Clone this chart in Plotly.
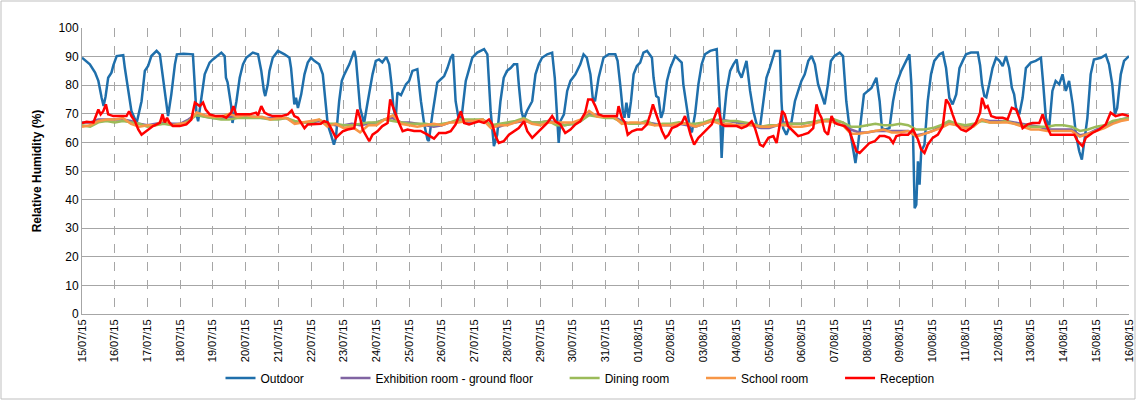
import pandas as pd
import plotly.graph_objects as go

START = "2015-07-15"

# ---- data (time in days since 15/07/15 00:00, relative humidity in %) ----
outdoor_day = [0.00, 0.12, 0.24, 0.40, 0.50, 0.60, 0.66, 0.72, 0.80, 0.90, 0.96, 1.06, 1.26, 1.31, 1.41, 1.51,
               1.67, 1.82, 1.92, 2.02, 2.12, 2.28, 2.38, 2.48, 2.56, 2.63, 2.73, 2.84, 2.90, 3.10, 3.39, 3.45,
               3.50, 3.55, 3.60, 3.65, 3.75, 3.90, 4.00, 4.26, 4.36, 4.40, 4.45, 4.56, 4.60, 4.72, 4.82, 4.92,
               5.02, 5.22, 5.38, 5.48, 5.56, 5.60, 5.68, 5.73, 5.83, 5.99, 6.19, 6.34, 6.39, 6.44, 6.49, 6.54,
               6.60, 6.70, 6.80, 6.90, 7.00, 7.10, 7.25, 7.36, 7.43, 7.51, 7.61, 7.70, 7.76, 7.86, 7.94, 8.02,
               8.17, 8.32, 8.37, 8.44, 8.50, 8.58, 8.62, 8.70, 8.78, 8.88, 8.98, 9.08, 9.18, 9.30, 9.39, 9.46,
               9.52, 9.59, 9.64, 9.75, 9.90, 10.00, 10.10, 10.25, 10.36, 10.46, 10.56, 10.60, 10.71, 10.81, 10.86, 10.96,
               11.07, 11.17, 11.27, 11.34, 11.42, 11.50, 11.60, 11.73, 11.83, 11.93, 12.08, 12.29, 12.39, 12.44, 12.49, 12.59,
               12.69, 12.79, 12.89, 12.99, 13.10, 13.20, 13.30, 13.35, 13.43, 13.50, 13.60, 13.76, 13.86, 13.96, 14.06, 14.22,
               14.37, 14.45, 14.52, 14.57, 14.62, 14.73, 14.83, 14.93, 15.08, 15.23, 15.33, 15.43, 15.54, 15.61, 15.68, 15.79,
               15.94, 16.10, 16.30, 16.37, 16.45, 16.53, 16.58, 16.64, 16.71, 16.78, 16.86, 16.96, 17.06, 17.16, 17.27, 17.42,
               17.47, 17.55, 17.62, 17.70, 17.77, 17.88, 17.98, 18.13, 18.23, 18.33, 18.38, 18.48, 18.58, 18.64, 18.74, 18.84,
               18.94, 19.04, 19.20, 19.40, 19.45, 19.50, 19.55, 19.60, 19.70, 19.81, 19.91, 20.01, 20.06, 20.16, 20.31, 20.42,
               20.52, 20.62, 20.72, 20.82, 20.92, 21.02, 21.18, 21.33, 21.38, 21.43, 21.53, 21.69, 21.79, 21.89, 21.99, 22.09,
               22.20, 22.30, 22.40, 22.50, 22.60, 22.70, 22.80, 22.89, 23.00, 23.16, 23.26, 23.31, 23.36, 23.46, 23.56, 23.64,
               23.72, 23.82, 23.90, 24.02, 24.13, 24.28, 24.38, 24.45, 24.55, 24.68, 24.79, 24.89, 25.04, 25.19, 25.29, 25.35,
               25.40, 25.45, 25.50, 25.55, 25.60, 25.65, 25.75, 25.85, 25.95, 26.05, 26.21, 26.31, 26.41, 26.51, 26.61, 26.72,
               26.82, 26.92, 27.02, 27.17, 27.38, 27.45, 27.51, 27.58, 27.64, 27.73, 27.83, 27.94, 28.04, 28.14, 28.24, 28.34,
               28.42, 28.49, 28.55, 28.65, 28.75, 28.85, 29.00, 29.15, 29.31, 29.38, 29.46, 29.56, 29.66, 29.76, 29.87, 29.97,
               30.07, 30.17, 30.28, 30.38, 30.48, 30.56, 30.63, 30.73, 30.83, 30.93, 31.14, 31.29, 31.39, 31.49, 31.57, 31.64,
               31.75, 31.85, 32.00]
outdoor_rh = [89.6, 88.5, 87.3, 84.4, 81.5, 75.6, 72.7, 76.0, 82.6, 84.4, 87.0, 90.2, 90.5, 86.0, 78.0, 71.0,
              66.8, 74.4, 85.0, 86.7, 90.2, 92.0, 90.8, 82.6, 74.4, 69.2, 76.8, 87.3, 90.8, 91.0, 90.8, 80.3,
              69.8, 67.4, 71.0, 75.6, 83.8, 87.9, 89.0, 91.4, 90.2, 82.6, 81.0, 72.7, 66.8, 74.4, 82.6, 87.3,
              89.6, 91.4, 90.8, 85.0, 78.0, 76.2, 80.3, 85.0, 89.6, 92.0, 90.8, 89.6, 86.0, 80.3, 73.3, 75.6,
              72.0, 76.8, 83.8, 87.9, 89.6, 88.5, 87.3, 83.8, 74.4, 66.3, 62.7, 59.2, 61.6, 74.4, 81.5, 83.8,
              87.3, 92.0, 89.6, 80.3, 72.0, 68.6, 66.5, 72.0, 78.0, 83.8, 88.5, 89.0, 88.0, 89.9, 87.3, 80.3,
              72.0, 68.5, 77.4, 76.5, 80.3, 81.5, 85.0, 85.6, 74.4, 66.3, 61.0, 60.5, 69.8, 78.0, 80.9, 82.0,
              83.2, 86.0, 89.6, 90.8, 74.4, 69.0, 68.6, 81.5, 86.0, 89.6, 91.4, 92.6, 90.8, 81.5, 71.0, 58.7,
              62.7, 74.4, 82.6, 85.0, 86.0, 87.3, 87.3, 80.3, 71.0, 68.0, 71.0, 74.4, 83.8, 87.3, 89.6, 90.8,
              91.4, 82.6, 68.6, 59.8, 67.4, 69.8, 78.0, 81.5, 83.8, 87.3, 90.8, 89.6, 83.8, 75.6, 74.4, 82.6,
              89.6, 90.8, 90.8, 88.5, 80.3, 71.0, 68.6, 73.9, 68.6, 74.4, 83.8, 86.7, 87.9, 91.4, 92.0, 89.6,
              82.6, 76.2, 75.6, 68.6, 71.0, 81.5, 86.0, 90.2, 89.0, 87.9, 80.3, 72.0, 65.0, 63.5, 70.0, 80.3,
              87.3, 90.8, 92.0, 92.6, 83.8, 71.0, 54.6, 66.3, 78.0, 85.0, 87.3, 89.0, 85.0, 82.6, 88.5, 78.0,
              71.0, 66.3, 65.0, 74.4, 82.6, 86.0, 92.0, 92.0, 74.4, 65.0, 62.7, 67.4, 74.4, 78.0, 81.5, 83.8,
              88.5, 90.2, 87.3, 80.3, 76.8, 73.3, 80.3, 88.5, 90.2, 91.4, 90.2, 82.6, 74.4, 65.0, 58.0, 52.8,
              59.2, 69.8, 76.8, 78.0, 79.0, 82.6, 74.4, 65.0, 64.5, 65.0, 74.4, 80.3, 85.0, 88.5, 90.8, 80.3,
              62.7, 37.0, 38.2, 53.4, 45.2, 56.9, 59.2, 74.4, 83.8, 88.5, 90.8, 91.4, 86.0, 75.6, 73.3, 76.8,
              86.0, 88.5, 90.8, 91.4, 91.4, 87.0, 80.3, 76.2, 75.8, 80.3, 86.0, 89.6, 88.5, 86.7, 90.2, 86.0,
              79.1, 76.8, 72.0, 69.8, 75.6, 86.0, 87.9, 88.5, 89.6, 80.3, 68.6, 65.0, 78.0, 81.5, 80.3, 83.8,
              78.0, 81.5, 73.3, 62.7, 56.9, 54.0, 60.4, 68.6, 83.8, 89.0, 89.6, 90.6, 87.3, 80.3, 69.8, 72.0,
              83.8, 88.5, 90.2]

reception_day = [0.00, 0.14, 0.35, 0.43, 0.50, 0.57, 0.65, 0.73, 0.80, 0.96, 1.16, 1.36, 1.44, 1.51, 1.62, 1.72,
                 1.82, 1.97, 2.17, 2.38, 2.46, 2.53, 2.60, 2.68, 2.78, 2.99, 3.19, 3.34, 3.45, 3.60, 3.70, 3.78,
                 3.90, 4.10, 4.30, 4.41, 4.56, 4.63, 4.71, 4.92, 5.12, 5.32, 5.38, 5.48, 5.58, 5.68, 5.83, 6.09,
                 6.29, 6.41, 6.49, 6.60, 6.70, 6.80, 6.90, 7.10, 7.30, 7.40, 7.51, 7.61, 7.76, 7.86, 7.97, 8.12,
                 8.32, 8.42, 8.50, 8.58, 8.68, 8.78, 8.88, 9.03, 9.18, 9.34, 9.42, 9.49, 9.59, 9.69, 9.80, 9.95,
                 10.15, 10.35, 10.56, 10.76, 10.91, 11.12, 11.27, 11.42, 11.58, 11.68, 11.83, 11.98, 12.13, 12.29, 12.44, 12.54,
                 12.64, 12.74, 12.89, 13.05, 13.20, 13.35, 13.51, 13.61, 13.76, 13.91, 14.07, 14.22, 14.37, 14.47, 14.62, 14.77,
                 14.93, 15.08, 15.23, 15.38, 15.47, 15.59, 15.69, 15.79, 15.94, 16.15, 16.35, 16.40, 16.50, 16.60, 16.68, 16.81,
                 16.96, 17.11, 17.27, 17.37, 17.45, 17.52, 17.62, 17.73, 17.83, 17.93, 18.03, 18.18, 18.33, 18.43, 18.53, 18.60,
                 18.71, 18.84, 18.94, 19.10, 19.25, 19.40, 19.45, 19.55, 19.65, 19.81, 20.01, 20.16, 20.31, 20.47, 20.57, 20.72,
                 20.82, 20.98, 21.13, 21.23, 21.33, 21.40, 21.48, 21.58, 21.74, 21.89, 22.04, 22.20, 22.35, 22.45, 22.52, 22.60,
                 22.70, 22.80, 22.91, 23.01, 23.11, 23.31, 23.46, 23.56, 23.67, 23.77, 23.92, 24.07, 24.23, 24.38, 24.53, 24.68,
                 24.79, 24.89, 25.04, 25.25, 25.40, 25.47, 25.55, 25.65, 25.75, 25.85, 26.00, 26.16, 26.31, 26.41, 26.51, 26.61,
                 26.72, 26.87, 27.02, 27.17, 27.32, 27.45, 27.51, 27.61, 27.68, 27.79, 27.94, 28.14, 28.29, 28.42, 28.55, 28.65,
                 28.75, 28.90, 29.05, 29.26, 29.36, 29.46, 29.61, 29.87, 30.12, 30.33, 30.43, 30.58, 30.68, 30.88, 31.09, 31.29,
                 31.44, 31.59, 31.80, 32.00]
reception_rh = [66.8, 67.2, 67.0, 69.2, 71.5, 69.8, 70.9, 73.3, 69.8, 69.2, 69.2, 69.2, 70.9, 69.2, 67.4, 64.5,
                62.7, 63.9, 65.7, 66.8, 69.8, 67.0, 68.6, 66.8, 65.7, 65.7, 66.3, 68.0, 73.9, 72.7, 73.9, 71.5,
                69.8, 69.2, 69.2, 68.6, 70.4, 72.7, 69.8, 69.8, 69.8, 70.4, 69.5, 72.7, 70.4, 69.8, 69.2, 69.2,
                69.8, 71.2, 69.2, 68.6, 66.8, 65.0, 66.3, 66.3, 66.5, 67.4, 67.0, 65.0, 61.6, 62.7, 63.9, 64.5,
                65.0, 71.5, 68.6, 64.5, 62.2, 60.4, 62.7, 63.9, 65.7, 66.8, 75.0, 72.7, 69.8, 66.8, 63.9, 64.5,
                64.0, 64.0, 62.7, 61.3, 63.3, 63.3, 63.9, 66.3, 70.9, 66.8, 66.3, 66.8, 67.4, 66.8, 68.0, 66.3,
                62.2, 59.8, 60.4, 62.7, 63.9, 65.0, 67.4, 63.9, 61.6, 63.3, 65.0, 66.8, 69.2, 67.4, 66.3, 63.3,
                64.5, 66.3, 67.4, 70.4, 75.0, 75.0, 72.7, 69.8, 69.2, 69.2, 69.2, 72.7, 68.6, 66.8, 62.7, 63.9,
                64.5, 64.5, 66.3, 69.8, 73.3, 70.9, 67.4, 63.9, 61.6, 62.7, 65.0, 65.7, 66.8, 69.2, 65.7, 62.7,
                59.2, 61.6, 62.7, 64.5, 66.3, 70.9, 72.1, 66.3, 65.7, 65.7, 65.7, 65.0, 65.7, 67.4, 65.0, 59.2,
                58.6, 61.6, 62.2, 59.8, 66.3, 71.0, 69.8, 65.7, 63.9, 62.2, 62.7, 63.3, 65.0, 73.3, 70.4, 68.6,
                63.9, 62.7, 69.2, 66.8, 66.3, 65.7, 63.9, 60.4, 56.9, 56.3, 58.0, 59.8, 60.4, 62.2, 62.2, 61.6,
                59.8, 62.2, 62.7, 62.7, 64.5, 62.7, 61.0, 57.5, 56.3, 59.2, 61.6, 62.7, 65.7, 75.0, 73.3, 69.8,
                66.3, 64.5, 63.9, 65.0, 66.8, 70.4, 75.6, 72.1, 72.7, 69.2, 68.6, 68.6, 68.0, 72.1, 71.5, 68.6,
                65.0, 66.3, 66.8, 66.8, 69.8, 66.3, 62.7, 62.7, 62.7, 62.7, 60.4, 58.7, 61.6, 63.3, 64.5, 66.3,
                70.4, 69.2, 69.8, 69.2]

# Indoor rooms, read every 6 hours (00, 06, 12, 18 h) from 15/07 to 16/08 00:00
exhibition_rh = [67, 67, 68, 68, 68, 68, 67.5, 66.5, 66, 66.5, 67, 66.5, 66.5, 68, 70, 69,
                 68.5, 68.5, 69, 69, 69, 69, 68.5, 68.5, 68.5, 68.5, 67, 67, 67, 67.5, 66.5, 66,
                 66, 66.5, 66, 66.5, 67, 68, 68.5, 67, 67, 66.5, 66, 65.5, 66, 67, 67.5, 67,
                 67.5, 68, 66, 65.5, 66.5, 67, 67.5, 67, 67, 67.5, 67, 66, 66.5, 67.5, 70, 69.5,
                 69, 69, 67.5, 66.5, 66.5, 67, 66.5, 66, 66, 66.5, 66, 65.5, 66.5, 67.5, 68, 67.5,
                 67, 66.5, 66, 65, 65, 66, 67, 66.5, 66.5, 67, 67.5, 67.5, 67.5, 67, 64.5, 63.5,
                 63.5, 64, 64, 64, 64, 64, 62.5, 63, 64, 65.5, 67, 66, 65.5, 66, 68, 67.5,
                 67.5, 67.5, 67, 66.5, 66, 65.5, 64.5, 64.5, 64.5, 64.5, 62.5, 63, 64.5, 65.5, 67, 68,
                 68.5]
dining_rh = [66, 65.5, 67, 67.5, 67, 67.5, 67, 66.5, 65.5, 66, 66.5, 66, 66, 67.5, 69.5, 69,
             68.5, 68, 68, 68.5, 68.5, 68.5, 68.5, 68, 68, 68.5, 67.5, 67, 67, 68, 66.5, 66.5,
             66, 66, 66.5, 67, 67, 68, 67.5, 67, 66.5, 66.5, 66.5, 66, 66.5, 67, 68, 68,
             68, 68, 66, 66.5, 67, 67.5, 68.5, 67, 67, 67.5, 66, 66, 66.5, 67.5, 69.5, 69,
             68.5, 68.5, 67, 66.5, 66.5, 67.5, 66, 66.5, 66.5, 67, 66.5, 66.5, 67, 68, 67.5, 67.5,
             67.5, 67, 66.5, 65.5, 66, 66, 66.5, 66.5, 66.5, 67, 67.5, 68, 68, 67, 65.5, 65.5,
             66, 66.5, 66, 66, 66.5, 66, 64.5, 64.5, 65, 66, 67.5, 66.5, 66, 66.5, 67.5, 67,
             67, 67.5, 66.5, 66, 65.5, 65.5, 65.5, 66, 66, 65.5, 64, 64.5, 65.5, 66, 67.5, 68,
             68.5]
school_rh = [65.5, 66, 67.5, 68, 68, 68.5, 66.5, 65.5, 66, 66, 68, 66, 66.5, 67, 70.5, 69.5,
             69, 69, 70, 69, 69.5, 69, 69, 68, 68.5, 68.5, 66.5, 67, 67.5, 68, 65.5, 66.5,
             65, 65.5, 63.5, 66, 66, 68, 69.5, 66.5, 66, 65.5, 66, 66.5, 66, 67, 67, 67.5,
             67.5, 68, 65, 66, 66, 67, 68, 66.5, 66, 67, 67, 67, 67, 68, 71, 69,
             69, 69, 66.5, 67, 67, 66.5, 66, 66, 66, 66.5, 66.5, 65.5, 66.5, 67.5, 66.5, 66.5,
             66, 66, 66, 65.5, 65.5, 66, 66, 65.5, 65.5, 66, 67, 67.5, 67, 66, 63, 63,
             63.5, 64, 64.5, 63.5, 63.5, 64, 62, 63, 64, 65, 66.5, 66, 65, 65.5, 68, 67,
             67, 67, 66.5, 65.5, 64.5, 64.5, 64, 64, 64, 64, 62, 63, 64, 65, 66.5, 67.5,
             68]
indoor_step_hours = 6

tick_dates = pd.date_range("2015-07-15", "2015-08-16", freq="D")
tick_labels = [d.strftime("%d/%m/%y") for d in tick_dates]

series_names = ["Outdoor", "Exhibition room - ground floor", "Dining room", "School room", "Reception"]
series_colors = ["#1F6FAB", "#8064A2", "#9BBB59", "#F79646", "#FF0000"]

# ---- build ----
t0 = pd.Timestamp(START)
to_time = lambda days: [t0 + pd.Timedelta(days=float(d)) for d in days]
indoor_time = [t0 + pd.Timedelta(hours=indoor_step_hours * i) for i in range(len(exhibition_rh))]

PAD = "\u00a0" * 8   # extra spacing after legend entries (Excel-like legend gaps)
legend_labels = [n + PAD for n in series_names[:-1]] + [series_names[-1]]

fig = go.Figure()
fig.add_trace(go.Scatter(x=to_time(outdoor_day), y=outdoor_rh, mode="lines", name=legend_labels[0],
                         line=dict(color=series_colors[0], width=2.5)))
fig.add_trace(go.Scatter(x=indoor_time, y=exhibition_rh, mode="lines", name=legend_labels[1],
                         line=dict(color=series_colors[1], width=2.5)))
fig.add_trace(go.Scatter(x=indoor_time, y=dining_rh, mode="lines", name=legend_labels[2],
                         line=dict(color=series_colors[2], width=2.5)))
fig.add_trace(go.Scatter(x=indoor_time, y=school_rh, mode="lines", name=legend_labels[3],
                         line=dict(color=series_colors[3], width=2.5)))
fig.add_trace(go.Scatter(x=to_time(reception_day), y=reception_rh, mode="lines", name=legend_labels[4],
                         line=dict(color=series_colors[4], width=2.5)))

L, R, T, B = 82, 8, 28, 96
W, H = 1137, 410
pw, ph = W - L - R, H - T - B

x_end = tick_dates[-1] + pd.Timedelta(minutes=2)   # keep the last date label inside the range

fig.update_layout(
    width=W, height=H,
    margin=dict(l=L, r=R, t=T, b=B, autoexpand=False),
    paper_bgcolor="white", plot_bgcolor="white",
    font=dict(family="Liberation Sans, Arial, sans-serif", size=12, color="#000000"),
    showlegend=True,
    legend=dict(orientation="h", x=(580 - L) / pw, xanchor="center", y=(T + ph - 378) / ph, yanchor="middle",
                font=dict(size=12), itemwidth=30, tracegroupgap=0, bgcolor="rgba(0,0,0,0)"),
    xaxis=dict(type="date", range=[tick_dates[0], x_end], tickmode="array", automargin=False,
               tickvals=list(tick_dates), ticktext=tick_labels, tickangle=-90, ticklabeloverflow="allow",
               tickfont=dict(size=11), showgrid=True, gridcolor="#A6A6A6", griddash="dash", gridwidth=1,
               showline=True, linecolor="#A6A6A6", linewidth=1, ticks="", zeroline=False),
    yaxis=dict(range=[0, 100], dtick=10, tickfont=dict(size=12), showgrid=True, gridcolor="#A6A6A6",
               automargin=False, gridwidth=1, showline=True, linecolor="#A6A6A6", linewidth=1, ticks="",
               zeroline=False,
               title=dict(text="<b>Relative Humidity (%)</b>", font=dict(size=12), standoff=14)),
    shapes=[dict(type="rect", xref="paper", yref="paper",
                 x0=(1 - L) / pw, x1=(W - 2 - L) / pw, y0=(T + ph - (H - 11)) / ph, y1=(T + ph - 1) / ph,
                 line=dict(color="#BFBFBF", width=1), fillcolor="rgba(0,0,0,0)", layer="below")],
)

fig.write_html("out.html", config={"displayModeBar": False},
               post_script="document.body.style.margin='0';document.body.style.padding='0';")
